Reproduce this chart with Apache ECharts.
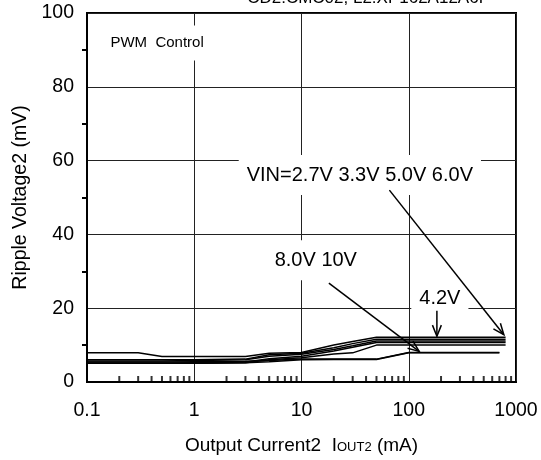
<!DOCTYPE html>
<html>
<head>
<meta charset="utf-8">
<script src="https://cdn.jsdelivr.net/npm/echarts@6/dist/echarts.min.js"></script>
<style>
  html, body { margin: 0; padding: 0; background: #fff; }
  #chart { width: 541px; height: 460px; }
</style>
</head>
<body>
<div id="chart"></div>
<script>
// output current (mA), shared by most curves
var currents = [0.1, 0.3, 0.5, 1, 3, 5, 10, 20, 30, 50, 100, 200, 500, 800];
var currentsLow = [0.1, 0.3, 0.5, 1, 3, 5, 10, 20, 30, 50, 100, 200, 500, 700];

// ripple voltage (mV) for each VIN
var vin27 = [6.0, 6.0, 6.0, 6.0, 6.2, 7.4, 7.8, 9.3, 10.4, 11.6, 11.6, 11.6, 11.6, 11.6];
var vin33 = [5.7, 5.7, 5.7, 5.8, 6.0, 7.0, 7.5, 8.8, 9.8, 11.1, 11.1, 11.1, 11.1, 11.1];
var vin42 = [7.9, 7.9, 6.9, 6.9, 6.9, 7.8, 8.0, 10.0, 11.0, 12.1, 12.1, 12.1, 12.1, 12.1];
var vin50 = [5.1, 5.1, 5.1, 5.2, 5.4, 6.3, 7.0, 8.4, 9.4, 10.7, 10.7, 10.7, 10.7, 10.7];
var vin60 = [5.1, 5.1, 5.1, 5.1, 5.2, 6.0, 6.6, 7.6, 7.9, 10.0, 10.0, 10.0, 10.0, 10.0];
var vin80 = [5.4, 5.4, 5.4, 5.5, 5.6, 5.8, 6.2, 6.2, 6.2, 6.2, 8.0, 8.0, 8.0, 8.0];
var vin10 = [5.1, 5.1, 5.1, 5.1, 5.2, 5.5, 6.0, 6.1, 6.1, 6.1, 7.9, 7.9, 7.9, 7.9];

var yTicks = [0, 20, 40, 60, 80, 100];
var xMinor = [0.2, 0.3, 0.4, 0.5, 0.6, 0.7, 0.8, 0.9,
              2, 3, 4, 5, 6, 7, 8, 9,
              20, 30, 40, 50, 60, 70, 80, 90,
              200, 300, 400, 500, 600, 700, 800, 900];

// annotation arrows: [fromX, fromY, toX, toY] in data units
var arrows = [
  [66, 52, 770, 12.8],
  [18, 26.8, 125, 8.3],
  [183, 19.3, 183, 12.4]
];
// annotation texts: [x, y, text]
var notes = [
  [0.45, 91.9, 'PWM  Control'],
  [35, 56.1, 'VIN=2.7V 3.3V 5.0V 6.0V'],
  [13.6, 33, '8.0V 10V'],
  [195, 22.5, '4.2V']
];

var FONT = '"Liberation Sans", Arial, sans-serif';

function pairs(xs, ys) {
  return xs.map(function (x, i) { return [x, ys[i]]; });
}

function curve(xs, ys) {
  return {
    type: 'line', data: pairs(xs, ys), symbol: 'none', silent: true,
    lineStyle: { color: '#000', width: 1.5 }, z: 3
  };
}

var chart = echarts.init(document.getElementById('chart'), null, { renderer: 'canvas' });

chart.setOption({
  animation: false,
  backgroundColor: '#fff',
  grid: { left: 87, right: 25, top: 13, bottom: 78, show: true, borderColor: '#000', borderWidth: 2 },
  xAxis: {
    type: 'log', logBase: 10, min: 0.1, max: 1000,
    name: 'Output Current2  I{s|OUT2} (mA)',
    nameLocation: 'middle', nameGap: 54,
    nameTextStyle: {
      color: '#000', fontFamily: FONT, fontSize: 19,
      rich: { s: { fontSize: 13, fontFamily: FONT, color: '#000', padding: [4, 0, 0, 0] } }
    },
    axisLine: { lineStyle: { color: '#000', width: 2 } },
    axisTick: { show: false },
    axisLabel: {
      color: '#000', fontFamily: FONT, fontSize: 19.5, margin: 19,
      formatter: function (v) { return String(v); }
    },
    splitLine: { show: true, lineStyle: { color: '#222', width: 1 } }
  },
  yAxis: {
    type: 'value', min: 0, max: 100, interval: 20,
    name: 'Ripple Voltage2 (mV)',
    nameLocation: 'middle', nameGap: 55,
    nameTextStyle: { color: '#000', fontFamily: FONT, fontSize: 19.5 },
    axisLine: { lineStyle: { color: '#000', width: 2 } },
    axisTick: { show: false },
    minorTick: { show: true, splitNumber: 2, length: 5, lineStyle: { color: '#000', width: 2 } },
    axisLabel: {
      color: '#000', fontFamily: FONT, fontSize: 19.5, margin: 13,
      formatter: function (v) { return yTicks.indexOf(v) >= 0 ? String(v) : ''; }
    },
    splitLine: { show: true, lineStyle: { color: '#222', width: 1 } }
  },
  graphic: [{
    type: 'text', right: 51, top: -10, silent: true,
    style: { text: 'CD2:CMC02, L2:XP162A12A6P', font: '17px ' + FONT, fill: '#000' }
  }],
  series: [
    {
      type: 'scatter', data: xMinor.map(function (x) { return [x, 0]; }),
      symbol: 'rect', symbolSize: [2, 6], symbolOffset: [0, -3], silent: true,
      itemStyle: { color: '#000' }, z: 2
    },
    curve(currents, vin27),
    curve(currents, vin33),
    curve(currents, vin42),
    curve(currents, vin50),
    curve(currents, vin60),
    curve(currentsLow, vin80),
    curve(currentsLow, vin10),
    {
      type: 'custom', data: notes, silent: true, z: 5,
      encode: { x: 0, y: 1 },
      renderItem: function (params, api) {
        var p = api.coord([api.value(0), api.value(1)]);
        var small = params.dataIndex === 0;
        return {
          type: 'text', x: p[0], y: p[1],
          style: {
            text: notes[params.dataIndex][2],
            font: (small ? '15px ' : '20px ') + FONT,
            fill: '#000', align: 'center', verticalAlign: 'middle',
            backgroundColor: '#fff', padding: small ? [10, 4] : [10, 8]
          }
        };
      }
    },
    {
      type: 'custom', data: arrows, silent: true, z: 6,
      encode: { x: [0, 2], y: [1, 3] },
      renderItem: function (params, api) {
        var a = api.coord([api.value(0), api.value(1)]);
        var b = api.coord([api.value(2), api.value(3)]);
        var ang = Math.atan2(b[1] - a[1], b[0] - a[0]);
        var len = 12, spread = 0.38;
        var h1 = [b[0] - len * Math.cos(ang - spread), b[1] - len * Math.sin(ang - spread)];
        var h2 = [b[0] - len * Math.cos(ang + spread), b[1] - len * Math.sin(ang + spread)];
        var st = { stroke: '#000', lineWidth: 1.5, fill: null };
        return {
          type: 'group',
          children: [
            { type: 'line', shape: { x1: a[0], y1: a[1], x2: b[0], y2: b[1] }, style: st },
            { type: 'polyline', shape: { points: [h1, b, h2] }, style: st }
          ]
        };
      }
    }
  ]
});
</script>
</body>
</html>
